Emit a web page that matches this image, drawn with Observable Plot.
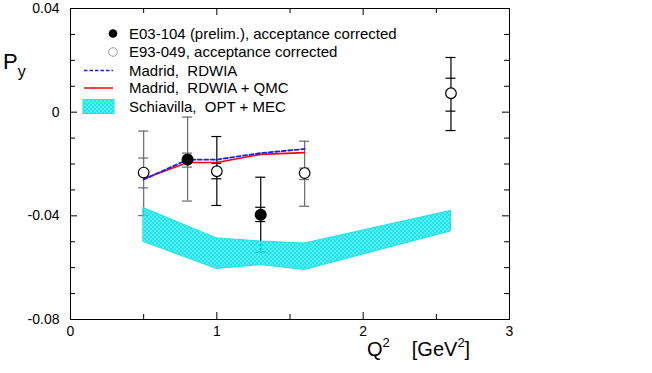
<!DOCTYPE html>
<html><head><meta charset="utf-8">
<script src="https://cdn.jsdelivr.net/npm/d3@7"></script>
<script src="https://cdn.jsdelivr.net/npm/@observablehq/plot@0.6"></script>
<style>
body{margin:0;background:#fff}
#chart{width:652px;height:373px;position:relative}
</style>
</head><body><div id="chart"></div>
<script>
// ---- data ----
// E03-104 (prelim.), acceptance corrected (filled)
const e03Q2 = [0.8, 1.3];
const e03Py = [-0.0183, -0.0396];
const e03InnerLo = [-0.0212, -0.0422];
const e03InnerHi = [-0.0158, -0.0367];
const e03OuterLo = [-0.0343, -0.0540];
const e03OuterHi = [-0.0019, -0.0251];
// E93-049, acceptance corrected (open)
const e93Q2 = [0.5, 1.0, 1.6, 2.6];
const e93Py = [-0.0233, -0.0228, -0.0235, 0.0073];
const e93InnerLo = [-0.0292, -0.0257, -0.0260, 0.0004];
const e93InnerHi = [-0.0177, -0.0197, -0.0216, 0.0131];
const e93OuterLo = [-0.0399, -0.0360, -0.0363, -0.0071];
const e93OuterHi = [-0.0073, -0.0094, -0.0112, 0.0211];
// Madrid curves
const madridQ2 = [0.5, 0.8, 1.0, 1.3, 1.6];
const rdwiaPy = [-0.0260, -0.0183, -0.0183, -0.0158, -0.0142];
const rdwiaQmcPy = [-0.0257, -0.0194, -0.0194, -0.0163, -0.0156];
// Schiavilla band
const bandQ2 = [0.5, 1.0, 1.3, 1.6, 2.6];
const bandHi = [-0.0370, -0.0487, -0.0499, -0.0507, -0.0381];
const bandLo = [-0.0501, -0.0605, -0.0590, -0.0609, -0.0460];
// ticks
const yLabelTicks = [0.04, 0, -0.04, -0.08];
const yAllTicks = [0.04, 0.03, 0.02, 0.01, 0, -0.01, -0.02, -0.03, -0.04, -0.05, -0.06, -0.07, -0.08];
const xLabelTicks = [0, 1, 2, 3];
const xAllTicks = [0, 0.5, 1, 1.5, 2, 2.5, 3];
const legendLabels = [
  "E03-104 (prelim.), acceptance corrected",
  "E93-049, acceptance corrected",
  "Madrid,  RDWIA",
  "Madrid,  RDWIA + QMC",
  "Schiavilla,  OPT + MEC"
];

// ---- tables ----
const mk = (q, p, il, ih, ol, oh, set) => q.map((d, i) => ({q2: d, py: p[i], il: il[i], ih: ih[i], ol: ol[i], oh: oh[i], set}));
const e03 = mk(e03Q2, e03Py, e03InnerLo, e03InnerHi, e03OuterLo, e03OuterHi, "E03");
const e93 = mk(e93Q2, e93Py, e93InnerLo, e93InnerHi, e93OuterLo, e93OuterHi, "E93");
const allPts = e03.concat(e93);
const caps = allPts.flatMap(d => [d.il, d.ih, d.ol, d.oh].map(v => ({q2: d.q2, y: v})));
const madrid = madridQ2.map((q, i) => ({q2: q, a: rdwiaPy[i], b: rdwiaQmcPy[i]}));
const band = bandQ2.map((q, i) => ({q2: q, lo: bandLo[i], hi: bandHi[i]}));
const greyAt = new Set([0.5, 0.8, 1.6]);
const barColor = d => greyAt.has(d.q2) ? "#6a6a6a" : "#000";
const yMajor = v => Math.abs(Math.round(v * 100) % 4) === 0;
const xMajor = v => Number.isInteger(v);

const font = "'Liberation Sans', Arial, Helvetica, sans-serif";

const chart = Plot.plot({
  width: 652, height: 373,
  marginLeft: 70, marginRight: 143, marginTop: 8, marginBottom: 54,
  x: {domain: [0, 3], label: null},
  y: {domain: [-0.08, 0.04], label: null},
  style: {fontFamily: font, fontSize: "14px", background: "white", color: "black", overflow: "visible"},
  marks: [
    // error bars
    Plot.ruleX(allPts, {x: "q2", y1: "ol", y2: "oh", stroke: barColor, strokeWidth: 1.2}),
    Plot.ruleY(caps, {y: "y", x1: "q2", x2: "q2", insetLeft: -5, insetRight: -5, stroke: barColor, strokeWidth: 1.2}),
    // band
    Plot.areaY(band, {x: "q2", y1: "lo", y2: "hi", fill: "url(#schiavillaHatch)", stroke: "#19e3e8", strokeWidth: 1}),
    // Madrid curves
    Plot.line(madrid, {x: "q2", y: "b", stroke: "#ff0000", strokeWidth: 1.6}),
    Plot.line(madrid, {x: "q2", y: "a", stroke: "#1a1aff", strokeWidth: 1.8, strokeDasharray: "4,2.5"}),
    // points
    Plot.dot(e93, {x: "q2", y: "py", r: 5.3, fill: "white", stroke: "black", strokeWidth: 1.2}),
    Plot.dot(e03, {x: "q2", y: "py", r: 5.3, fill: "black", stroke: "black"}),
    // frame and ticks (inward, mirrored)
    Plot.frame({stroke: "black", strokeWidth: 1}),
    Plot.ruleY(yAllTicks.filter(yMajor), {y: d => d, x1: 0, x2: 0, insetRight: -7, stroke: "black"}),
    Plot.ruleY(yAllTicks.filter(v => !yMajor(v)), {y: d => d, x1: 0, x2: 0, insetRight: -5, stroke: "black"}),
    Plot.ruleY(yAllTicks.filter(yMajor), {y: d => d, x1: 3, x2: 3, insetLeft: -7, stroke: "black"}),
    Plot.ruleY(yAllTicks.filter(v => !yMajor(v)), {y: d => d, x1: 3, x2: 3, insetLeft: -5, stroke: "black"}),
    Plot.ruleX(xAllTicks.filter(xMajor), {x: d => d, y1: -0.08, y2: -0.08, insetBottom: 7, stroke: "black"}),
    Plot.ruleX(xAllTicks.filter(v => !xMajor(v)), {x: d => d, y1: -0.08, y2: -0.08, insetBottom: 5, stroke: "black"}),
    Plot.ruleX(xAllTicks.filter(xMajor), {x: d => d, y1: 0.04, y2: 0.04, insetTop: 7, stroke: "black"}),
    Plot.ruleX(xAllTicks.filter(v => !xMajor(v)), {x: d => d, y1: 0.04, y2: 0.04, insetTop: 5, stroke: "black"}),
    // tick labels
    Plot.axisY(yLabelTicks, {anchor: "left", tickSize: 0, tickPadding: 11, tickFormat: d => String(d), fontSize: 14, label: null}),
    Plot.axisX(xLabelTicks, {anchor: "bottom", tickSize: 0, tickPadding: 7, tickFormat: d => String(d), fontSize: 14, label: null})
  ]
});

const svg = d3.select(chart);
// hatch pattern for the band (cyan lattice with transparent holes)
const defs = svg.insert("defs", ":first-child");
const pat = defs.append("pattern").attr("id", "schiavillaHatch")
  .attr("patternUnits", "userSpaceOnUse").attr("width", 4).attr("height", 4);
pat.append("path").attr("fill", "#1ee6ea").attr("fill-rule", "evenodd")
  .attr("d", "M0,0H4V4H0Z M1,0.3L1.7,1L1,1.7L0.3,1Z M3,2.3L3.7,3L3,3.7L2.3,3Z");

// legend
const lg = svg.append("g").attr("font-family", font).attr("font-size", 15).attr("text-anchor", "start");
const rows = [33.5, 52, 70.5, 88, 106.5];
const x0 = 84, x1 = 113, tx = 129;
lg.append("circle").attr("cx", x1).attr("cy", rows[0]).attr("r", 4.3).attr("fill", "black");
lg.append("circle").attr("cx", x1).attr("cy", rows[1]).attr("r", 4.3).attr("fill", "white").attr("stroke", "#9a9a9a");
lg.append("line").attr("x1", x0).attr("x2", x1).attr("y1", rows[2]).attr("y2", rows[2])
  .attr("stroke", "#1a1aff").attr("stroke-width", 1.5).attr("stroke-dasharray", "3.5,2");
lg.append("line").attr("x1", x0).attr("x2", x1).attr("y1", rows[3]).attr("y2", rows[3])
  .attr("stroke", "#ff0000").attr("stroke-width", 1.5);
lg.append("rect").attr("x", x0 - 1).attr("y", rows[4] - 7).attr("width", 31).attr("height", 14)
  .attr("fill", "url(#schiavillaHatch)").attr("stroke", "#19e3e8");
legendLabels.forEach((t, i) => {
  lg.append("text").attr("x", tx).attr("y", rows[i]).attr("dy", "0.36em").attr("fill", "black").text(t);
});

// axis titles
const py = svg.append("text").attr("font-family", font).attr("fill", "black").attr("text-anchor", "start").attr("x", 3).attr("y", 69);
py.append("tspan").attr("font-size", 22).text("P");
py.append("tspan").attr("font-size", 16).attr("dy", 8).text("y");

const qt = svg.append("text").attr("font-family", font).attr("fill", "black").attr("text-anchor", "start").attr("x", 367).attr("y", 356).attr("font-size", 20);
qt.append("tspan").text("Q");
qt.append("tspan").attr("font-size", 13).attr("dy", -9).text("2");
qt.append("tspan").attr("dy", 9).attr("dx", 22).text("[GeV");
qt.append("tspan").attr("font-size", 13).attr("dy", -9).text("2");
qt.append("tspan").attr("dy", 9).text("]");

document.getElementById("chart").appendChild(chart);
</script>
</body></html>
